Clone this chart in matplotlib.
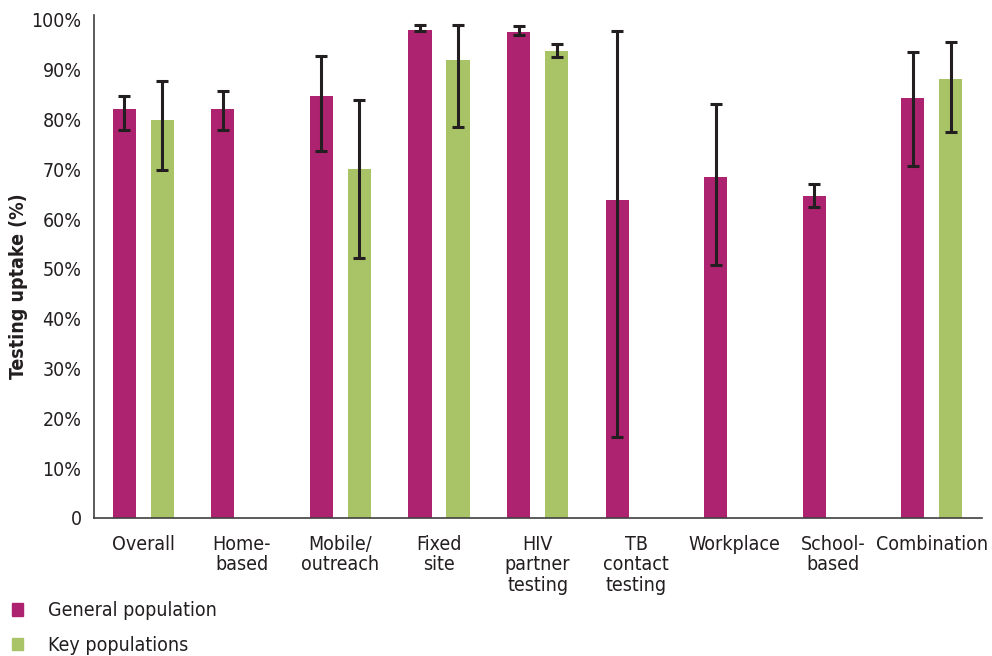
import matplotlib.pyplot as plt
from matplotlib.patches import Patch
import numpy as np

categories = ["Overall", "Home-\nbased", "Mobile/\noutreach", "Fixed\nsite",
              "HIV\npartner\ntesting", "TB\ncontact\ntesting", "Workplace",
              "School-\nbased", "Combination"]

# general population: value, lower, upper
gen_val = [82.1, 82.1, 84.7, 98.0, 97.6, 63.9, 68.5, 64.7, 84.3]
gen_lo = [78.0, 78.0, 73.6, 97.7, 97.0, 16.3, 50.8, 62.4, 70.7]
gen_hi = [84.7, 85.8, 92.7, 98.9, 98.8, 97.8, 83.1, 67.0, 93.5]

# key populations (None = no bar)
key_val = [79.9, None, 70.1, 92.0, 93.8, None, None, None, 88.2]
key_lo = [69.9, None, 52.3, 78.6, 92.6, None, None, None, 77.5]
key_hi = [87.7, None, 83.9, 98.9, 95.1, None, None, None, 95.6]

c_gen = "#AE2370"
c_key = "#A9C467"
c_err = "#231F20"
c_txt = "#231F20"

plt.rcParams['font.family'] = ['DejaVu Sans']
plt.rcParams['font.stretch'] = 'condensed'

fig = plt.figure(figsize=(9.92, 6.56), dpi=100)
ax = fig.add_axes([0.0948, 0.2104, 0.8952, 0.7668])

x = np.arange(len(categories))
w = 0.234
off = 0.193

gv = np.array(gen_val)
ax.bar(x - off, gv, w, color=c_gen)
ax.errorbar(x - off, gv, yerr=[gv - np.array(gen_lo), np.array(gen_hi) - gv],
            fmt='none', ecolor=c_err, elinewidth=2.2, capsize=4.6, capthick=2.2)

ki = [i for i, v in enumerate(key_val) if v is not None]
kv = np.array([key_val[i] for i in ki])
klo = np.array([key_lo[i] for i in ki])
khi = np.array([key_hi[i] for i in ki])
ax.bar(x[ki] + off, kv, w, color=c_key)
ax.errorbar(x[ki] + off, kv, yerr=[kv - klo, khi - kv],
            fmt='none', ecolor=c_err, elinewidth=2.2, capsize=4.6, capthick=2.2)

ax.set_xlim(-0.5, 8.51)
ax.set_ylim(0, 101)
ax.set_yticks(range(0, 101, 10))
ax.set_yticklabels(["0"] + [f"{v}%" for v in range(10, 101, 10)])
ax.set_xticks(x)
ax.set_xticklabels(categories, linespacing=1.1)
ax.tick_params(axis='both', length=0, labelsize=14, colors=c_txt)
ax.tick_params(axis='y', pad=9)
ax.tick_params(axis='x', pad=12)
for s in ['top', 'right']:
    ax.spines[s].set_visible(False)
for s in ['left', 'bottom']:
    ax.spines[s].set_color('#404040')
    ax.spines[s].set_linewidth(1.2)

ax.set_ylabel("Testing uptake (%)", fontsize=14, fontweight='bold', color=c_txt)
ax.yaxis.set_label_coords(-0.0856, 0.46)
ax.yaxis.label.set_va('center')

handles = [Patch(color=c_gen), Patch(color=c_key)]
fig.legend(handles, ["General population", "Key populations"], loc='upper left',
           bbox_to_anchor=(0.004, 0.095), frameon=False, fontsize=14,
           handlelength=0.6, handleheight=0.6, handletextpad=1.25, labelspacing=0.8,
           labelcolor=c_txt, borderaxespad=0)

fig.savefig("out.png", dpi=100)
